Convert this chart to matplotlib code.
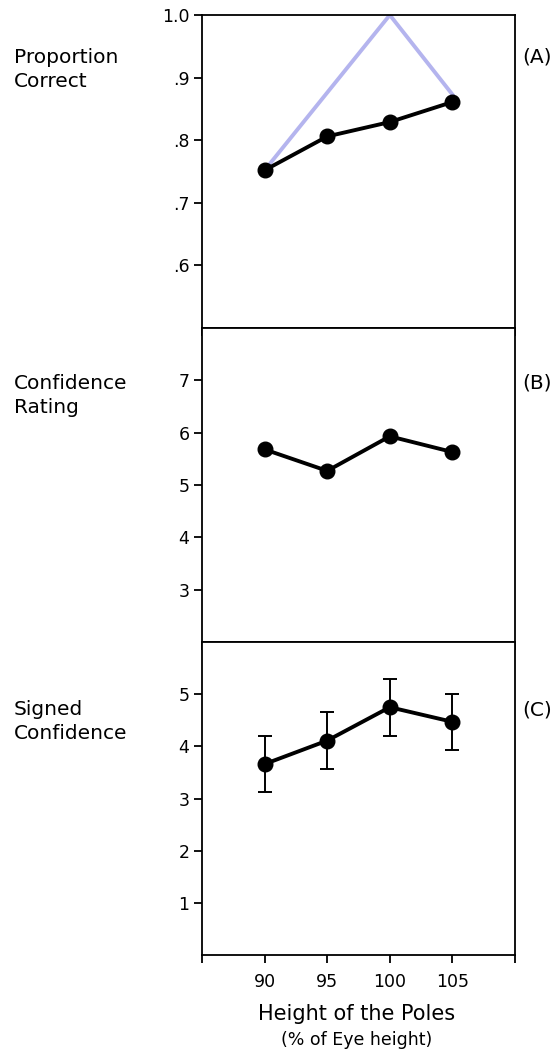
import matplotlib
matplotlib.use("Agg")
import matplotlib.pyplot as plt

plt.rcParams['font.family'] = ['DejaVu Sans']

heights = [90, 95, 100, 105]
prop_correct = [0.752, 0.806, 0.829, 0.861]
prop_ideal = [0.752, 0.876, 1.0, 0.873]
confidence = [5.68, 5.27, 5.93, 5.63]
signed_conf = [3.66, 4.11, 4.75, 4.47]
signed_err = [0.54, 0.54, 0.55, 0.54]

a_ticks = [0.6, 0.7, 0.8, 0.9, 1.0]
a_labels = ['.6', '.7', '.8', '.9', '1.0']
b_ticks = [3, 4, 5, 6, 7]
c_ticks = [1, 2, 3, 4, 5]
x_ticks = [85, 90, 95, 100, 105, 110]
x_labels = ['', '90', '95', '100', '105', '']

W, H = 558, 1053
fig = plt.figure(figsize=(W / 100, H / 100), dpi=100)

def add_ax(top, bottom):
    return fig.add_axes([202 / W, 1 - bottom / H, 313 / W, (bottom - top) / H])

axA = add_ax(15, 328)
axB = add_ax(328, 642)
axC = add_ax(642, 955)

lw = 2.8
ms = 10.5
for ax in (axA, axB, axC):
    ax.set_xlim(85, 110)
    ax.set_xticks(x_ticks)
    ax.tick_params(axis='both', direction='out', length=6, width=1.3, labelsize=12.5,
                   colors='black', pad=3)
    for s in ax.spines.values():
        s.set_linewidth(1.3)
    ax.set_xticklabels([''] * len(x_ticks))

axA.plot(heights, prop_ideal, color='#b4b4ee', lw=2.8, zorder=2)
axA.plot(heights, prop_correct, color='black', lw=lw, marker='o', ms=ms, zorder=3)
axA.set_ylim(0.5, 1.0)
axA.set_yticks(a_ticks)
axA.set_yticklabels(a_labels)

axB.plot(heights, confidence, color='black', lw=lw, marker='o', ms=ms, zorder=3)
axB.set_ylim(2, 8)
axB.set_yticks(b_ticks)

axC.errorbar(heights, signed_conf, yerr=signed_err, fmt='none', ecolor='black',
             elinewidth=1.4, capsize=5, capthick=1.4, zorder=2)
axC.plot(heights, signed_conf, color='black', lw=lw, marker='o', ms=ms, zorder=3)
axC.set_ylim(0, 6)
axC.set_yticks(c_ticks)
axC.set_xticklabels(x_labels)
axC.tick_params(axis='x', pad=7)

def ftxt(x, y, s, **kw):
    fig.text(x / W, 1 - y / H, s, **kw)

lab = dict(fontsize=14.5, ha='left', va='center', linespacing=1.3)
ftxt(14, 69.5, 'Proportion\nCorrect', **lab)
ftxt(14, 395.5, 'Confidence\nRating', **lab)
ftxt(14, 721.5, 'Signed\nConfidence', **lab)
ftxt(522, 57, '(A)', fontsize=14.5, ha='left', va='center')
ftxt(522, 383, '(B)', fontsize=14.5, ha='left', va='center')
ftxt(522, 710, '(C)', fontsize=14.5, ha='left', va='center')

ftxt(357, 1014, 'Height of the Poles', fontsize=15, ha='center', va='center')
ftxt(357, 1040, '(% of Eye height)', fontsize=12.5, ha='center', va='center')

fig.savefig('out.png', dpi=100)
